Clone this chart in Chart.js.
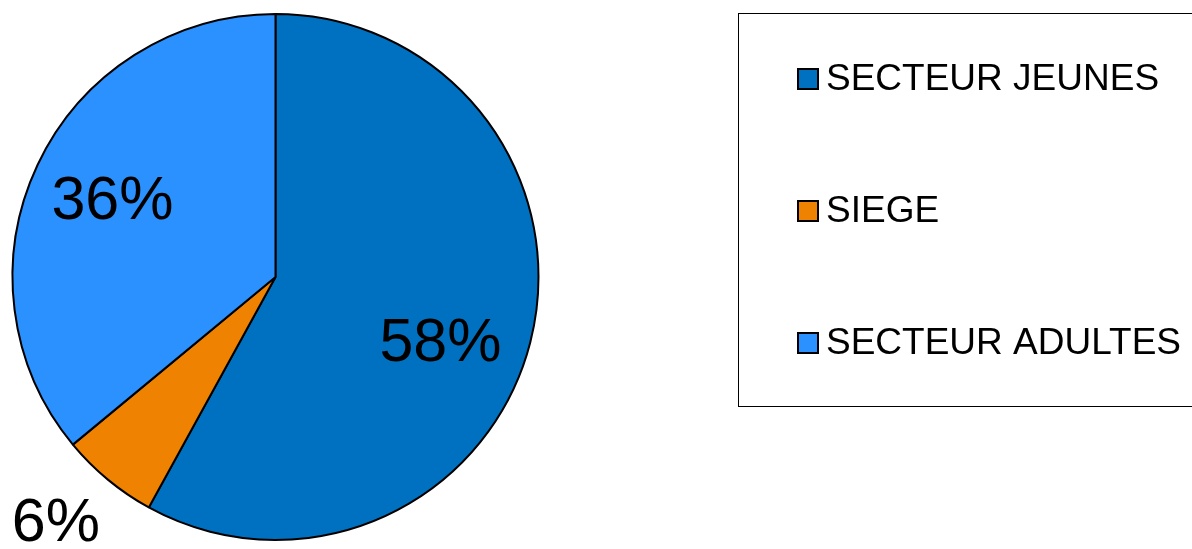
<!DOCTYPE html>
<html>
<head>
<meta charset="utf-8">
<script src="https://cdn.jsdelivr.net/npm/chart.js@4/dist/chart.umd.min.js"></script>
<style>
  html, body { margin: 0; padding: 0; background: #fff; overflow: hidden; }
</style>
</head>
<body>
<canvas id="myChart" width="1192" height="549"></canvas>
<script>
const categories = ['SECTEUR JEUNES', 'SIEGE', 'SECTEUR ADULTES'];
const values = [58, 6, 36];
const percentLabels = ['58%', '6%', '36%'];
const colors = ['#0071C1', '#EF8200', '#2B91FF'];

// labels des pourcentages : distance au centre (en rayons) + petit decalage d'angle (degres)
const labelPlacement = [
  { r: 0.675, da: 7.3 },
  { r: 1.25, da: 2.3 },
  { r: 0.685, da: 0 },
];

const percentPlugin = {
  id: 'percentLabels',
  afterDatasetsDraw(chart) {
    const ctx = chart.ctx;
    const meta = chart.getDatasetMeta(0);
    ctx.save();
    ctx.fillStyle = '#000';
    ctx.font = '61px "Liberation Sans", Arial, sans-serif';
    ctx.textAlign = 'center';
    ctx.textBaseline = 'middle';
    meta.data.forEach((arc, i) => {
      const p = labelPlacement[i];
      const mid = (arc.startAngle + arc.endAngle) / 2 + p.da * Math.PI / 180;
      const dist = arc.outerRadius * p.r;
      const x = arc.x + Math.cos(mid) * dist;
      const y = arc.y + Math.sin(mid) * dist;
      ctx.fillText(percentLabels[i], x, y + 2);
    });
    ctx.restore();
  }
};

const boxLegend = {
  id: 'boxLegend',
  afterDraw(chart) {
    const ctx = chart.ctx;
    ctx.save();
    ctx.strokeStyle = '#000';
    ctx.lineWidth = 1;
    ctx.strokeRect(738.5, 13.5, 470, 393);
    ctx.font = '37px "Liberation Sans", Arial, sans-serif';
    ctx.textBaseline = 'middle';
    ctx.textAlign = 'left';
    chart.data.labels.forEach((lab, i) => {
      const cy = 79 + i * 132;
      ctx.fillStyle = chart.data.datasets[0].backgroundColor[i];
      ctx.fillRect(798, cy - 10, 20, 20);
      ctx.lineWidth = 2;
      ctx.strokeRect(798, cy - 10, 20, 20);
      ctx.fillStyle = '#000';
      ctx.fillText(lab, 826, cy + 1);
    });
    ctx.restore();
  }
};

const ctx = document.getElementById('myChart').getContext('2d');
new Chart(ctx, {
  type: 'pie',
  data: {
    labels: categories,
    datasets: [{
      data: values,
      backgroundColor: colors,
      borderColor: '#000',
      borderWidth: 2,
    }],
  },
  options: {
    responsive: false,
    animation: false,
    layout: { padding: { left: 11, top: 13, right: 652, bottom: 8 } },
    plugins: {
      legend: { display: false },
      tooltip: { enabled: false },
    },
  },
  plugins: [percentPlugin, boxLegend],
});
</script>
</body>
</html>
